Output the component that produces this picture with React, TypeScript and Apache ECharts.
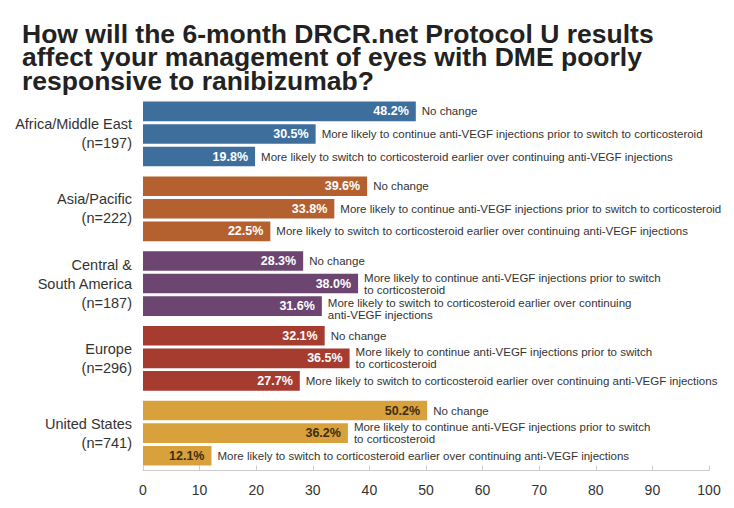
import React, { useEffect, useRef } from "react";
import * as echarts from "echarts";

const regions = [
  "Africa/Middle East\n(n=197)",
  "Asia/Pacific\n(n=222)",
  "Central &\nSouth America\n(n=187)",
  "Europe\n(n=296)",
  "United States\n(n=741)",
];
const noChange = [48.2, 39.6, 28.3, 32.1, 50.2];
const continueAntiVEGF = [30.5, 33.8, 38.0, 36.5, 36.2];
const switchEarlier = [19.8, 22.5, 31.6, 27.7, 12.1];

const descNoChange = ["No change", "No change", "No change", "No change", "No change"];
const descContinue = [
  "More likely to continue anti-VEGF injections prior to switch to corticosteroid",
  "More likely to continue anti-VEGF injections prior to switch to corticosteroid",
  "More likely to continue anti-VEGF injections prior to switch\nto corticosteroid",
  "More likely to continue anti-VEGF injections prior to switch\nto corticosteroid",
  "More likely to continue anti-VEGF injections prior to switch\nto corticosteroid",
];
const descSwitch = [
  "More likely to switch to corticosteroid earlier over continuing anti-VEGF injections",
  "More likely to switch to corticosteroid earlier over continuing anti-VEGF injections",
  "More likely to switch to corticosteroid earlier over continuing\nanti-VEGF injections",
  "More likely to switch to corticosteroid earlier over continuing anti-VEGF injections",
  "More likely to switch to corticosteroid earlier over continuing anti-VEGF injections",
];

const regionColors = ["#3E6F9C", "#B5612F", "#6C4571", "#A63B30", "#D9A13C"];
const valueLabelColors = ["#ffffff", "#ffffff", "#ffffff", "#ffffff", "#3b2e14"];

const FONT = "'Liberation Sans', Arial, sans-serif";

export default function App() {
  const ref = useRef<HTMLDivElement>(null);
  useEffect(() => {
    document.body.style.margin = "0";
    const chart = echarts.init(ref.current!, null, { renderer: "svg" });
    const seriesSets = [
      { values: noChange, descs: descNoChange },
      { values: continueAntiVEGF, descs: descContinue },
      { values: switchEarlier, descs: descSwitch },
    ];
    const data: any[] = [];
    seriesSets.forEach((s, slot) => {
      s.values.forEach((v, r) => {
        data.push({ value: [v, r, slot], desc: s.descs[r] });
      });
    });

    chart.setOption({
      animation: false,
      backgroundColor: "#ffffff",
      title: {
        text: "How will the 6-month DRCR.net Protocol U results\naffect your management of eyes with DME poorly\nresponsive to ranibizumab?",
        left: 17,
        top: 17,
        textStyle: {
          fontFamily: FONT,
          fontSize: 26.5,
          fontWeight: "bold",
          lineHeight: 23.5,
          color: "#222222",
        },
      },
      grid: { left: 143, right: 25, top: 96.6, bottom: 37.5 },
      xAxis: {
        type: "value",
        min: 0,
        max: 100,
        interval: 10,
        axisLine: { show: true, lineStyle: { color: "#cccccc", width: 1 } },
        axisTick: { show: true, inside: true, length: 5, lineStyle: { color: "#cccccc" } },
        splitLine: { show: false },
        axisLabel: { fontFamily: FONT, fontSize: 14, color: "#333333", margin: 12 },
      },
      yAxis: {
        type: "category",
        data: regions,
        inverse: true,
        axisLine: { show: false },
        axisTick: { show: false },
        axisLabel: {
          fontFamily: FONT,
          fontSize: 14.5,
          lineHeight: 19,
          color: "#333333",
          align: "right",
          margin: 11,
        },
      },
      series: [
        {
          type: "custom",
          encode: { x: 0, y: 1 },
          data,
          renderItem: (params: any, api: any) => {
            const v = api.value(0);
            const r = api.value(1);
            const slot = api.value(2);
            const band = api.size([0, 1])[1];
            const c = api.coord([0, r]);
            const e = api.coord([v, r]);
            const pitch = band * 0.302;
            const h = band * 0.262;
            const y = c[1] + (slot - 1) * pitch;
            const item = data[params.dataIndex];
            const wrapped = String(item.desc).indexOf("\n") >= 0;
            const descShift = wrapped && slot === 2 ? 3 : 0;
            return {
              type: "group",
              children: [
                {
                  type: "rect",
                  shape: { x: c[0], y: y - h / 2, width: e[0] - c[0], height: h },
                  style: { fill: regionColors[r] },
                },
                {
                  type: "text",
                  x: e[0] - 7,
                  y: y,
                  style: {
                    text: v.toFixed(1) + "%",
                    fontFamily: FONT,
                    fontSize: 12.5,
                    fontWeight: "bold",
                    fill: valueLabelColors[r],
                    align: "right",
                    verticalAlign: "middle",
                  },
                },
                {
                  type: "text",
                  x: e[0] + 6,
                  y: y + descShift,
                  style: {
                    text: item.desc,
                    fontFamily: FONT,
                    fontSize: 11.5,
                    lineHeight: 12,
                    fill: "#333333",
                    align: "left",
                    verticalAlign: "middle",
                  },
                },
              ],
            };
          },
        },
      ],
    });
    return () => chart.dispose();
  }, []);
  return <div ref={ref} style={{ width: 734, height: 508 }} />;
}
